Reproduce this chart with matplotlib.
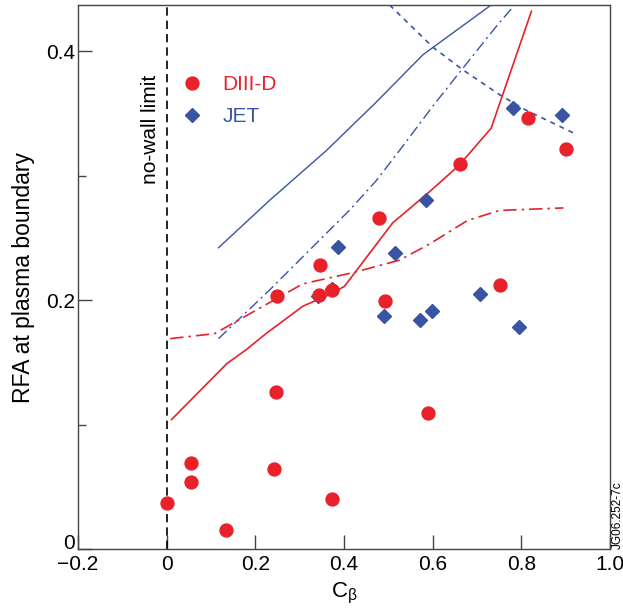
import matplotlib
matplotlib.use("Agg")
import matplotlib.pyplot as plt
from matplotlib.lines import Line2D

# --- data ---
diiid_cb = [0.0, 0.055, 0.056, 0.134, 0.247, 0.243, 0.248, 0.347, 0.343, 0.372,
            0.372, 0.480, 0.492, 0.589, 0.661, 0.751, 0.816, 0.900]
diiid_rfa = [0.037, 0.069, 0.054, 0.015, 0.126, 0.064, 0.203, 0.228, 0.204, 0.208,
             0.040, 0.266, 0.199, 0.109, 0.309, 0.212, 0.346, 0.321]

jet_cb = [0.341, 0.372, 0.386, 0.491, 0.515, 0.572, 0.585, 0.599, 0.707, 0.781, 0.794, 0.891]
jet_rfa = [0.203, 0.209, 0.243, 0.187, 0.238, 0.184, 0.280, 0.191, 0.205, 0.354, 0.178, 0.349]

# model curves
red_solid_x = [0.011, 0.136, 0.179, 0.224, 0.307, 0.371, 0.401, 0.510, 0.593, 0.659, 0.732, 0.823]
red_solid_y = [0.104, 0.149, 0.160, 0.173, 0.195, 0.205, 0.211, 0.262, 0.287, 0.308, 0.338, 0.432]

red_dd_x = [0.008, 0.108, 0.307, 0.420, 0.525, 0.593, 0.679, 0.751, 0.895]
red_dd_y = [0.169, 0.173, 0.213, 0.222, 0.232, 0.245, 0.264, 0.272, 0.274]

blue_solid_x = [0.117, 0.232, 0.360, 0.470, 0.578, 0.732]
blue_solid_y = [0.242, 0.280, 0.320, 0.358, 0.397, 0.437]

blue_dd_x = [0.117, 0.232, 0.322, 0.412, 0.473, 0.525, 0.601, 0.661, 0.744, 0.785]
blue_dd_y = [0.169, 0.208, 0.240, 0.272, 0.296, 0.320, 0.356, 0.383, 0.420, 0.437]

blue_dash_x = [0.503, 0.601, 0.668, 0.751, 0.808, 0.925]
blue_dash_y = [0.437, 0.403, 0.385, 0.365, 0.353, 0.333]

xticks = [-0.2, 0.0, 0.2, 0.4, 0.6, 0.8, 1.0]
xticklabels = ["\u22120.2", "0", "0.2", "0.4", "0.6", "0.8", "1.0"]
yticks = [0.0, 0.2, 0.4]
yticklabels = ["0", "0.2", "0.4"]
yminor = [0.1, 0.3]

RED = "#e8212b"
BLUE = "#3a54a4"

plt.rcParams["font.family"] = ["Liberation Sans", "DejaVu Sans"]
plt.rcParams["mathtext.fontset"] = "custom"
plt.rcParams["mathtext.rm"] = "Liberation Sans"
plt.rcParams["mathtext.it"] = "Liberation Sans"
plt.rcParams["mathtext.default"] = "regular"

fig = plt.figure(figsize=(6.23, 6.12), dpi=100)
ax = fig.add_axes([0.1252, 0.1029, 0.8538, 0.8889])

# no-wall limit
ax.axvline(0.0, color="black", lw=1.2, ls=(0, (5, 3)))
ax.text(-0.036, 0.337, "no-wall limit", rotation=90, ha="center", va="center", fontsize=15)

# curves
ax.plot(blue_solid_x, blue_solid_y, color=BLUE, lw=1.0)
ax.plot(blue_dd_x, blue_dd_y, color=BLUE, lw=1.0, ls=(0, (8, 3, 1.5, 3)))
ax.plot(blue_dash_x, blue_dash_y, color=BLUE, lw=1.2, ls=(0, (3, 3)))
ax.plot(red_solid_x, red_solid_y, color=RED, lw=1.2)
ax.plot(red_dd_x, red_dd_y, color=RED, lw=1.2, ls=(0, (8, 3, 1.5, 3)))

# data
ax.plot(jet_cb, jet_rfa, ls="none", marker="D", ms=7.5, color=BLUE, mec=BLUE)
ax.plot(diiid_cb, diiid_rfa, ls="none", marker="o", ms=9.3, color=RED, mec=RED)

handles = [Line2D([], [], ls="none", marker="o", ms=9.3, color=RED),
           Line2D([], [], ls="none", marker="D", ms=7.5, color=BLUE)]
ax.legend(handles, ["DIII-D", "JET"], loc="upper left", bbox_to_anchor=(0.16, 0.906),
          frameon=False, fontsize=15, handlelength=1.0, handletextpad=0.95,
          labelspacing=0.62, labelcolor=[RED, BLUE])

ax.set_xlim(-0.2, 1.0)
ax.set_ylim(0, 0.437)
ax.set_xticks(xticks)
ax.set_xticklabels(xticklabels)
ax.set_yticks(yticks)
ax.set_yticklabels(yticklabels)
ax.set_yticks(yminor, minor=True)
ax.tick_params(axis="both", which="major", direction="in", length=10, width=1,
               labelsize=15, color="#444444")
ax.tick_params(axis="y", which="minor", direction="in", length=6, width=1, color="#444444")
ax.tick_params(axis="x", pad=4)
ax.tick_params(axis="y", pad=2)
ax.get_yticklabels()[0].set_verticalalignment("baseline")
for s in ax.spines.values():
    s.set_color("#444444")
    s.set_linewidth(1.0)

ax.set_xlabel(r"C$_{\beta}$", fontsize=16, labelpad=5)
ax.set_ylabel("RFA at plasma boundary", fontsize=16.5, labelpad=8)

fig.text(0.992, 0.103, "JG06.252-7c", rotation=90, fontsize=8.5, ha="center", va="bottom")

fig.savefig("out.png", dpi=100)
